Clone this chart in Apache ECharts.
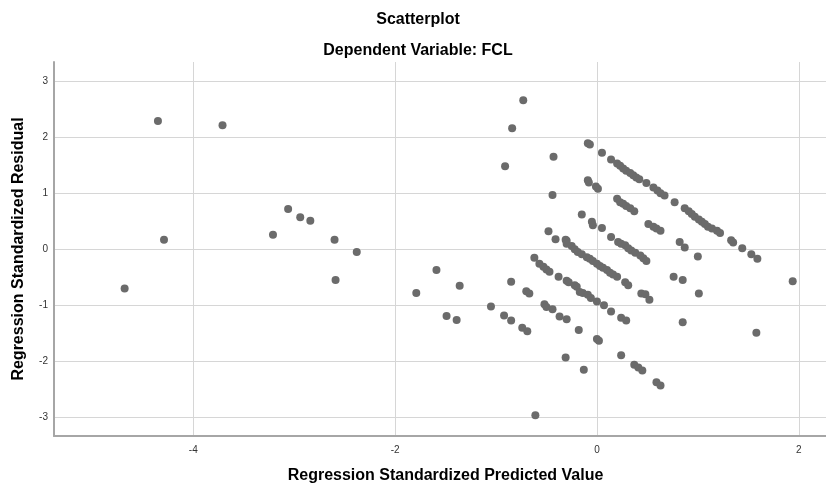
<!DOCTYPE html>
<html>
<head>
<meta charset="utf-8">
<script src="https://cdn.jsdelivr.net/npm/echarts@6/dist/echarts.min.js"></script>
<style>html,body{margin:0;padding:0;background:#fff}#c{width:826px;height:484px}</style>
</head>
<body>
<div id="c"></div>
<script>
const titleText = "Scatterplot";
const subtitleText = "Dependent Variable: FCL";
const xName = "Regression Standardized Predicted Value";
const yName = "Regression Standardized Residual";
const xTicks = [-4, -2, 0, 2];
const yTicks = [-3, -2, -1, 0, 1, 2, 3];

const leftCluster = [
  [-4.68,-0.70],[-4.35,2.29],[-4.29,0.17],[-3.71,2.21],[-3.21,0.26],[-3.06,0.72],[-2.94,0.57],[-2.84,0.51],
  [-2.60,0.17],[-2.59,-0.55],[-2.38,-0.05],[-1.79,-0.78],[-1.59,-0.37],[-1.36,-0.65],[-1.49,-1.19],[-1.39,-1.26],
  [-1.05,-1.02],[-0.92,-1.18],[-0.85,-1.27],[-0.74,-1.40],[-0.69,-1.46],[-0.85,-0.58],[-0.70,-0.75],[-0.67,-0.79],
  [-0.61,-2.96],[-0.73,2.66],[-0.84,2.16],[-0.91,1.48],[-0.43,1.65],[-0.44,0.97],[-0.48,0.32],[-0.41,0.18],[-0.30,0.15]
];
const lineA = [
  [-0.09,1.89],[-0.07,1.87],[0.05,1.72],[0.14,1.60],[0.20,1.53],[0.23,1.49],[0.26,1.44],[0.29,1.40],[0.33,1.36],
  [0.36,1.32],[0.39,1.28],[0.42,1.25],[0.49,1.18],[0.56,1.10],[0.60,1.05],[0.63,1.00],[0.67,0.96],[0.77,0.84],
  [0.87,0.73],[0.91,0.68],[0.94,0.63],[0.97,0.58],[1.01,0.53],[1.04,0.49],[1.07,0.45],[1.10,0.40],[1.14,0.37],
  [1.19,0.33],[1.22,0.29],[1.33,0.16],[1.35,0.12],[1.44,0.02],[1.53,-0.09],[1.59,-0.17]
];
const lineB = [
  [-0.09,1.23],[-0.08,1.19],[-0.01,1.12],[0.01,1.08],[0.20,0.90],[0.23,0.84],[0.26,0.81],[0.29,0.77],[0.33,0.73],
  [0.37,0.68],[0.51,0.45],[0.56,0.40],[0.59,0.37],[0.63,0.33],[0.82,0.13],[0.87,0.03],[1.00,-0.13]
];
const lineC = [
  [-0.15,0.62],[-0.05,0.49],[-0.04,0.43],[0.05,0.38],[0.14,0.22],[0.21,0.13],[0.24,0.10],[0.28,0.07],[0.31,0.02],
  [0.34,-0.02],[0.38,-0.06],[0.43,-0.11],[0.46,-0.16],[0.49,-0.21]
];
const lineD = [
  [-0.31,0.17],[-0.30,0.10],[-0.25,0.06],[-0.22,0.00],[-0.19,-0.05],[-0.15,-0.09],[-0.10,-0.14],[-0.07,-0.17],
  [-0.04,-0.21],[0.00,-0.26],[0.03,-0.30],[0.06,-0.33],[0.10,-0.37],[0.13,-0.42],[0.16,-0.45],[0.20,-0.49],
  [0.28,-0.59],[0.31,-0.64],[0.44,-0.79],[0.48,-0.80],[0.52,-0.90]
];
const lineE = [
  [-0.62,-0.15],[-0.57,-0.26],[-0.53,-0.31],[-0.50,-0.36],[-0.47,-0.40],[-0.38,-0.49],[-0.30,-0.56],[-0.28,-0.59],
  [-0.22,-0.64],[-0.20,-0.67],[-0.17,-0.76],[-0.14,-0.78],[-0.09,-0.81],[-0.06,-0.87],[0.00,-0.93],[0.07,-1.00],
  [0.14,-1.11],[0.24,-1.22],[0.29,-1.27]
];
const lineF = [
  [-0.52,-0.98],[-0.50,-1.03],[-0.44,-1.07],[-0.37,-1.20],[-0.30,-1.25],[-0.18,-1.44],[0.00,-1.60],[0.02,-1.63]
];
const others = [
  [-0.31,-1.93],[-0.13,-2.15],[0.24,-1.89],[0.37,-2.06],[0.41,-2.11],[0.45,-2.16],[0.59,-2.37],[0.63,-2.43],
  [0.76,-0.49],[0.85,-0.55],[1.01,-0.79],[0.85,-1.30],[1.94,-0.57],[1.58,-1.49]
];

const points = [].concat(leftCluster, lineA, lineB, lineC, lineD, lineE, lineF, others);

const chart = echarts.init(document.getElementById('c'), null, {renderer: 'canvas'});
const FONT = '"Liberation Sans", Arial, sans-serif';
chart.setOption({
  animation: false,
  backgroundColor: '#ffffff',
  title: [
    {text: titleText, left: 413, top: 7, textAlign: 'center',
     textStyle: {fontFamily: FONT, fontSize: 16, fontWeight: 'bold', color: '#000'}},
    {text: subtitleText, left: 413, top: 38, textAlign: 'center',
     textStyle: {fontFamily: FONT, fontSize: 16, fontWeight: 'bold', color: '#000'}}
  ],
  grid: {left: 54, right: 0, top: 62, bottom: 48, containLabel: false, outerBoundsMode: 'none'},
  xAxis: {
    type: 'value', min: -5.38, max: 2.27,
    name: xName, nameLocation: 'middle', nameGap: 32,
    nameTextStyle: {fontFamily: FONT, fontSize: 16, fontWeight: 'bold', color: '#000', padding: [0, 0, 0, 11]},
    axisLine: {show: true, onZero: false, lineStyle: {color: '#a6a6a6', width: 2}},
    axisTick: {show: false, customValues: xTicks},
    axisLabel: {customValues: xTicks, fontFamily: FONT, fontSize: 10, color: '#333', margin: 9},
    splitLine: {show: true, lineStyle: {color: '#d6d6d6', width: 1}}
  },
  yAxis: {
    type: 'value', min: -3.33, max: 3.34,
    name: yName, nameLocation: 'middle', nameGap: 27, nameRotate: 90,
    nameTextStyle: {fontFamily: FONT, fontSize: 16, fontWeight: 'bold', color: '#000'},
    axisLine: {show: true, onZero: false, lineStyle: {color: '#a6a6a6', width: 2}},
    axisTick: {show: false, customValues: yTicks},
    axisLabel: {customValues: yTicks, fontFamily: FONT, fontSize: 10, color: '#333', margin: 6},
    splitLine: {show: true, lineStyle: {color: '#d6d6d6', width: 1}}
  },
  series: [{
    type: 'scatter', data: points, symbol: 'circle', symbolSize: 8,
    itemStyle: {color: '#6b6b6b', opacity: 1}
  }]
});
</script>
</body>
</html>
